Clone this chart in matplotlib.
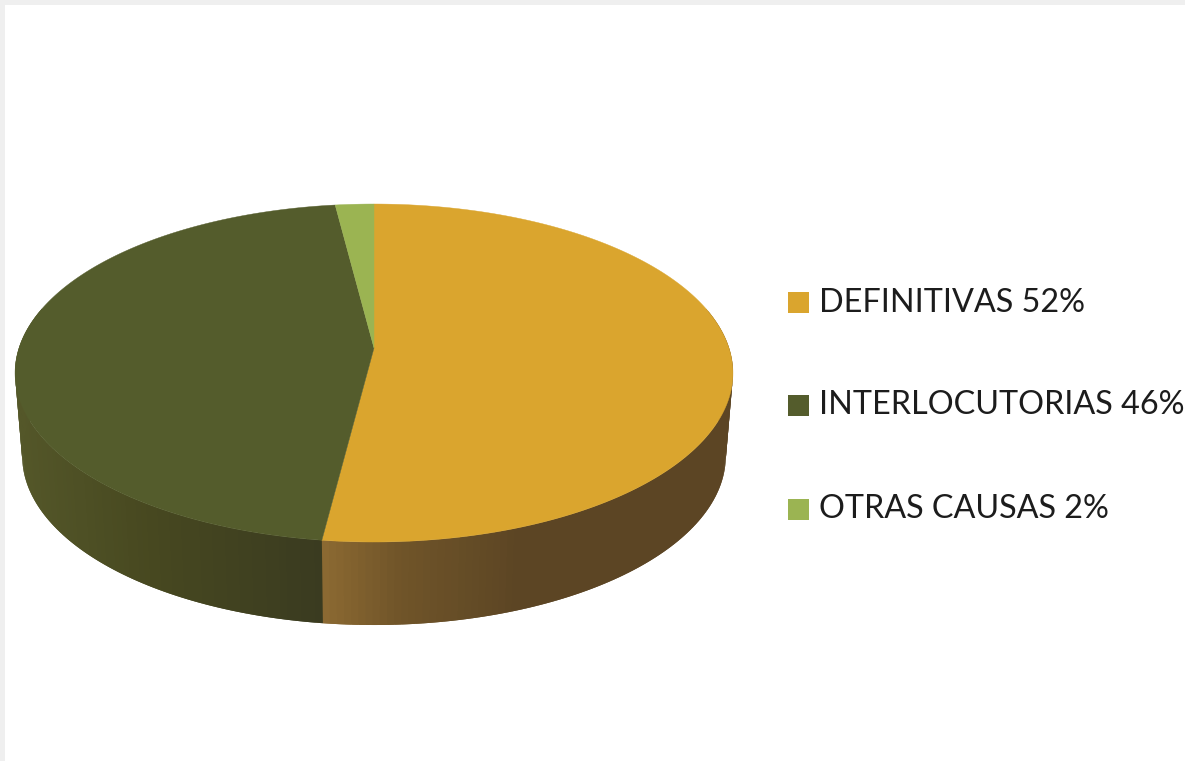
import numpy as np
import matplotlib
matplotlib.use('Agg')
import matplotlib.pyplot as plt
from matplotlib.patches import Polygon, Rectangle

# pie data
categories = ['DEFINITIVAS', 'INTERLOCUTORIAS', 'OTRAS CAUSAS']
values = [52, 46, 2]
top_colors = ['#daa52e', '#545c2c', '#9bb452']
# wall shade as (screen x, colour) stops, one list per slice
wall_stops = [
    [(323, '#8c6a32'), (400, '#705529'), (520, '#5c4524'), (740, '#5c4524')],
    [(15, '#545729'), (150, '#474820'), (323, '#3a3b20')],
    [(320, '#6c8038'), (380, '#6c8038')],
]

# projection of the tilted disc
cx, cy = 374, 348
a, b, k = 355.0, 165.3, 0.148
depth = 83
shrink = 0.98


def rim(t, dy=0, sx=1.0):
    # t in radians, clockwise from 12 o'clock
    X, Y = np.sin(t), np.cos(t)
    w = 1 + k * Y
    return cx + sx * a * X / w, cy + dy - b * Y / w


def hex_rgb(c):
    return np.array(matplotlib.colors.to_rgb(c))


def wall_color(stops, x):
    xs = [s[0] for s in stops]
    rgb = np.array([hex_rgb(s[1]) for s in stops])
    return [np.interp(x, xs, rgb[:, i]) for i in range(3)]


fig = plt.figure(figsize=(11.85, 7.61), dpi=100, facecolor='#efefef')
ax = fig.add_axes([0, 0, 1, 1])
ax.set_xlim(0, 1185)
ax.set_ylim(761, 0)
ax.axis('off')
ax.add_patch(Rectangle((5, 5), 1180, 756, fc='#ffffff', ec='none', zorder=0))

edges = np.deg2rad(np.cumsum([0] + values) * 3.6)

# side wall first, each band runs under the next one so no seams show
for i in range(len(values)):
    lo, hi = max(edges[i], np.pi / 2 - 0.25), min(edges[i + 1], 3 * np.pi / 2 + 0.25)
    if hi <= lo:
        continue
    step = np.deg2rad(1.0)
    n = max(int((hi - lo) / step), 1)
    steps = np.linspace(lo, hi, n + 1)
    for j, (t0, t1) in enumerate(zip(steps[:-1], steps[1:])):
        end = t1 + step if j < n - 1 or i == 0 else t1
        tt = np.linspace(t0, end, 5)
        x1, y1 = rim(tt)
        x2, y2 = rim(tt[::-1], dy=depth, sx=shrink)
        pts = np.column_stack([np.r_[x1, x2], np.r_[y1, y2]])
        col = wall_color(wall_stops[i], x1[:3].mean())
        ax.add_patch(Polygon(pts, closed=True, fc=col, ec='none', lw=0, zorder=2))

# top face
for i in range(len(values)):
    tt = np.linspace(edges[i], edges[i + 1], 240)
    x, y = rim(tt)
    pts = np.column_stack([np.r_[cx, x], np.r_[cy, y]])
    ax.add_patch(Polygon(pts, closed=True, fc=top_colors[i], ec=top_colors[i], lw=0.3, zorder=3))

# legend
legend_y = [302.5, 405.5, 509.5]
for name, val, col, y in zip(categories, values, top_colors, legend_y):
    ax.add_patch(Rectangle((788, y - 10.5), 21, 21, fc=col, ec='none', zorder=4))
    ax.text(819, y, f'{name} {val}%', family='Lato', fontsize=23.3, color='#1c1c1c',
            va='center', ha='left', zorder=5)

plt.savefig('out.png', dpi=100, facecolor=fig.get_facecolor())
